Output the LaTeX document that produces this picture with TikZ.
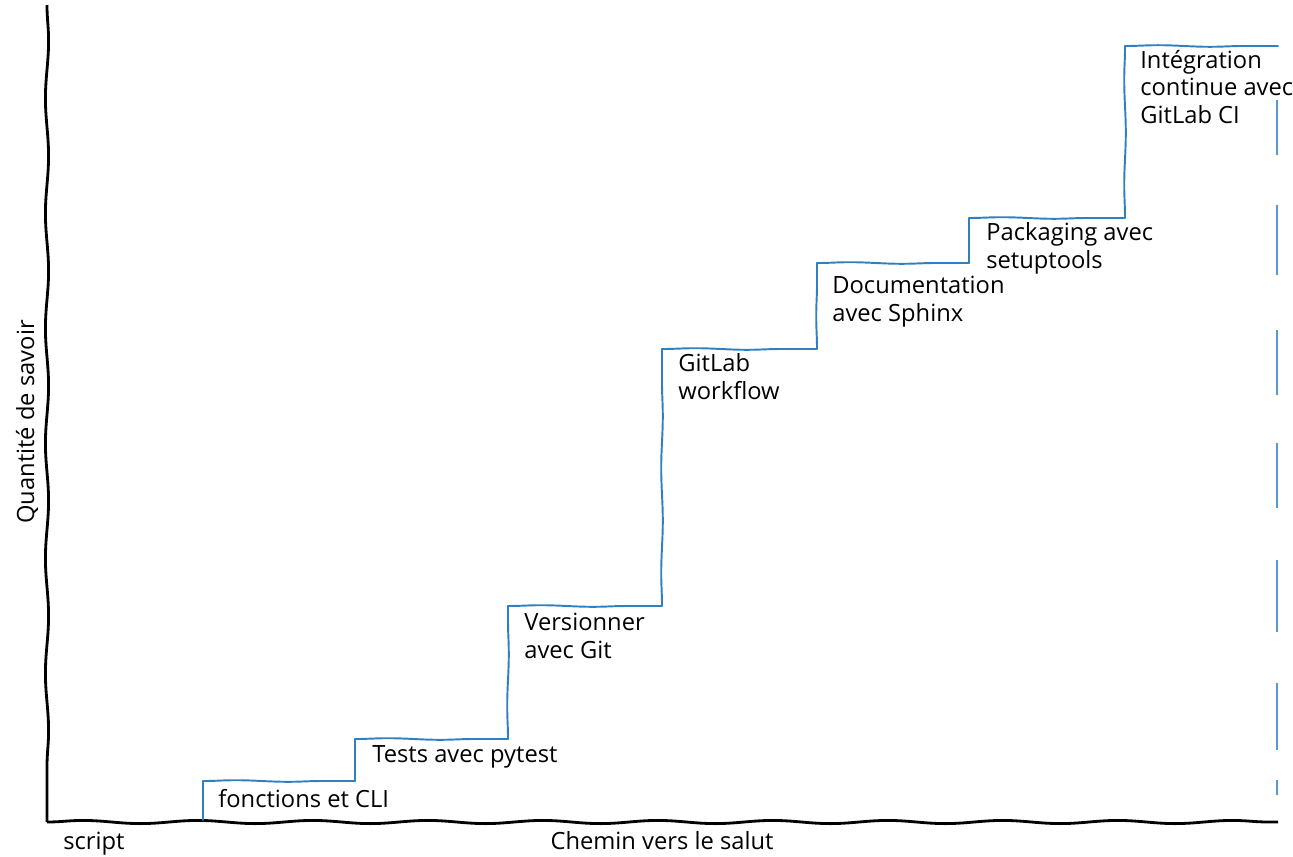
\documentclass[tikz,border=0pt]{standalone}
\usepackage{fontspec}
\setmainfont{Open Sans}
\usetikzlibrary{decorations.pathmorphing}
\definecolor{stairblue}{HTML}{2F7FC1}

\tikzset{
  axisline/.style={line width=1.6pt, black, decorate,
    decoration={snake, amplitude=0.9pt, segment length=2.3cm}},
  stairline/.style={line width=1.1pt, stairblue, line cap=round, decorate,
    decoration={snake, amplitude=0.45pt, segment length=2.1cm}},
  edgeline/.style={line width=1.1pt, stairblue!80},
  steplabel/.style={anchor=base west, align=left, inner sep=0pt,
    font=\fontsize{13.5}{15.5}\selectfont},
  axislabel/.style={inner sep=0pt, font=\fontsize{13.5}{15.5}\selectfont}
}

\begin{document}
\begin{tikzpicture}[x=0.02cm, y=-0.02cm]
      \useasboundingbox (0,0) rectangle (1293,856);

      \coordinate (top) at (47,5);
      \coordinate (orig) at (47,822);
      \coordinate (right) at (1278,822);
      \draw[axisline] (top) -- (orig);
      \draw[axisline] (orig) -- (right);

      \coordinate (s0) at (203,820);
      \coordinate (s1) at (203,781);
      \coordinate (t1) at (355,781);
      \coordinate (s2) at (355,739);
      \coordinate (t2) at (508,739);
      \coordinate (s3) at (508,606);
      \coordinate (t3) at (662,606);
      \coordinate (s4) at (662,349);
      \coordinate (t4) at (817,349);
      \coordinate (s5) at (817,263);
      \coordinate (t5) at (969,263);
      \coordinate (s6) at (969,218);
      \coordinate (t6) at (1125,218);
      \coordinate (s7) at (1125,46);
      \coordinate (s8) at (1278,46);

      \foreach \p/\q in {s0/s1, s1/t1, t1/s2, s2/t2, t2/s3, s3/t3, t3/s4,
                         s4/t4, t4/s5, s5/t5, t5/s6, s6/t6, t6/s7, s7/s8}
        \draw[stairline] (\p) -- (\q);

      \foreach \a/\b in {100/155, 205/275, 330/395, 443/508, 560/632, 683/750, 780/795}
        \draw[edgeline] (1277,\a) -- (1277,\b);

      \node[steplabel] (fonctions) at (218,807) {fonctions et CLI};
      \node[steplabel] (tests) at (372,762) {Tests avec pytest};
      \node[steplabel] (git) at (524,658) {Versionner\\avec Git};
      \node[steplabel] (workflow) at (678,399) {GitLab\\workflow};
      \node[steplabel] (sphinx) at (832,321) {Documentation\\avec Sphinx};
      \node[steplabel] (packaging) at (986,268) {Packaging avec\\setuptools};
      \node[steplabel] (ci) at (1140,123) {Intégration\\continue avec\\GitLab CI};

      \node[axislabel, anchor=base west] (script) at (63,849) {script};
      \node[axislabel, anchor=base] (xlabel) at (662,849) {Chemin vers le salut};
      \node[axislabel, anchor=base, rotate=90] (ylabel) at (34,422) {Quantité de savoir};

\end{tikzpicture}
\end{document}
